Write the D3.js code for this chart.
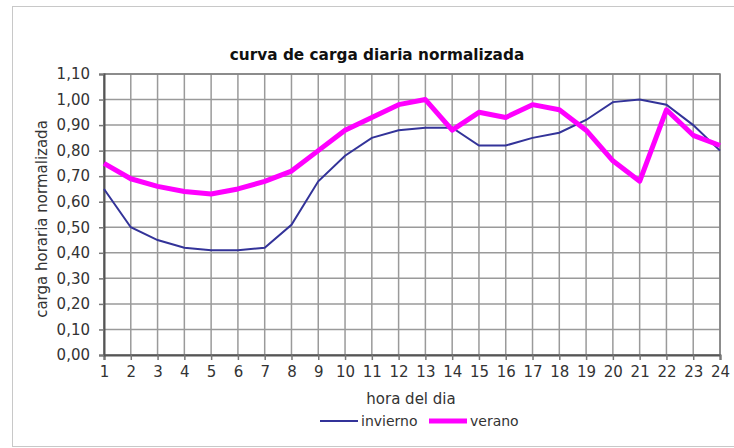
<!DOCTYPE html>
<html lang="en">
<head>
  <meta charset="UTF-8">
  <style>
    html, body { margin: 0; padding: 0; background: #fff; }
    svg { display: block; font-family: "DejaVu Sans", Verdana, sans-serif; }
  </style>
  <script src="https://d3js.org/d3.v7.min.js"></script>
</head>
<body>
  <svg id="chart" width="734" height="448"></svg>

  <script>
    // hours of the day
    const hours = d3.range(1, 25);

    // load curves
    const invierno = [0.65, 0.50, 0.45, 0.42, 0.41, 0.41, 0.42, 0.51, 0.68, 0.78, 0.85, 0.88,
                      0.89, 0.89, 0.82, 0.82, 0.85, 0.87, 0.92, 0.99, 1.00, 0.98, 0.90, 0.80];
    const verano   = [0.75, 0.69, 0.66, 0.64, 0.63, 0.65, 0.68, 0.72, 0.80, 0.88, 0.93, 0.98,
                      1.00, 0.88, 0.95, 0.93, 0.98, 0.96, 0.88, 0.76, 0.68, 0.96, 0.86, 0.82];

    const yTicks = d3.range(0, 12).map(i => i / 10);

    const svg = d3.select('#chart');

    // outer chart border
    svg.append('rect')
      .attr('x', 12.5).attr('y', 6.5)
      .attr('width', 740).attr('height', 440)
      .attr('fill', 'none')
      .attr('stroke', '#c8c8c8');

    const plot = { left: 104, right: 720, top: 74, bottom: 355 };

    const x = d3.scaleLinear().domain([1, 24]).range([plot.left, plot.right]);
    const y = d3.scaleLinear().domain([0, 1.1]).range([plot.bottom, plot.top]);

    const fmt = d => d3.format('.2f')(d).replace('.', ',');

    // gridlines
    svg.append('g')
      .selectAll('line.v')
      .data(hours)
      .enter().append('line')
      .attr('x1', d => x(d)).attr('x2', d => x(d))
      .attr('y1', plot.top).attr('y2', plot.bottom)
      .attr('stroke', '#9a9a9a').attr('stroke-width', 1.5);

    svg.append('g')
      .selectAll('line.h')
      .data(yTicks)
      .enter().append('line')
      .attr('x1', plot.left).attr('x2', plot.right)
      .attr('y1', d => y(d)).attr('y2', d => y(d))
      .attr('stroke', '#9a9a9a').attr('stroke-width', 1.5);

    // plot frame
    svg.append('rect')
      .attr('x', plot.left).attr('y', plot.top)
      .attr('width', plot.right - plot.left).attr('height', plot.bottom - plot.top)
      .attr('fill', 'none')
      .attr('stroke', '#808080').attr('stroke-width', 1.5);

    // axes
    const xAxis = d3.axisBottom(x).tickValues(hours).tickSize(5).tickPadding(6).tickFormat(d3.format('d'));
    const yAxis = d3.axisLeft(y).tickValues(yTicks).tickSize(5).tickPadding(9).tickFormat(fmt);

    const gx = svg.append('g')
      .attr('transform', `translate(0, ${plot.bottom})`)
      .call(xAxis);
    const gy = svg.append('g')
      .attr('transform', `translate(${plot.left}, 0)`)
      .call(yAxis);

    [gx, gy].forEach(g => {
      g.select('.domain').attr('stroke', '#555').attr('stroke-width', 2);
      g.selectAll('.tick line').attr('stroke', '#777').attr('stroke-width', 1.5);
      g.selectAll('.tick text')
        .attr('fill', '#333')
        .attr('font-size', 15)
        .attr('font-family', '"DejaVu Sans", Verdana, sans-serif');
    });

    // series lines
    const line = d3.line().x((d, i) => x(hours[i])).y(d => y(d));

    svg.append('path')
      .datum(invierno)
      .attr('d', line)
      .attr('fill', 'none')
      .attr('stroke', '#333399')
      .attr('stroke-width', 2);

    svg.append('path')
      .datum(verano)
      .attr('d', line)
      .attr('fill', 'none')
      .attr('stroke', '#ff00ff')
      .attr('stroke-width', 5)
      .attr('stroke-linejoin', 'round');

    // title
    svg.append('text')
      .attr('x', 377).attr('y', 60)
      .attr('text-anchor', 'middle')
      .attr('font-size', 15.3)
      .attr('font-weight', 'bold')
      .attr('fill', '#111')
      .text('curva de carga diaria normalizada');

    // axis titles
    svg.append('text')
      .attr('x', 411).attr('y', 404)
      .attr('text-anchor', 'middle')
      .attr('font-size', 15)
      .attr('fill', '#333')
      .text('hora del dia');

    svg.append('text')
      .attr('transform', 'translate(47, 219) rotate(-90)')
      .attr('text-anchor', 'middle')
      .attr('font-size', 15)
      .attr('fill', '#333')
      .text('carga horaria normalizada');

    // legend
    const legendData = [
      { name: 'invierno', color: '#333399', width: 2, x: 320 },
      { name: 'verano', color: '#ff00ff', width: 5, x: 429 }
    ];

    const legend = svg.append('g').attr('class', 'legend');
    legendData.forEach(d => {
      legend.append('line')
        .attr('x1', d.x).attr('x2', d.x + 38)
        .attr('y1', 421).attr('y2', 421)
        .attr('stroke', d.color).attr('stroke-width', d.width);
      legend.append('text')
        .attr('x', d.x + 41).attr('y', 426)
        .attr('font-size', 14)
        .attr('fill', '#333')
        .text(d.name);
    });
  </script>
</body>
</html>
